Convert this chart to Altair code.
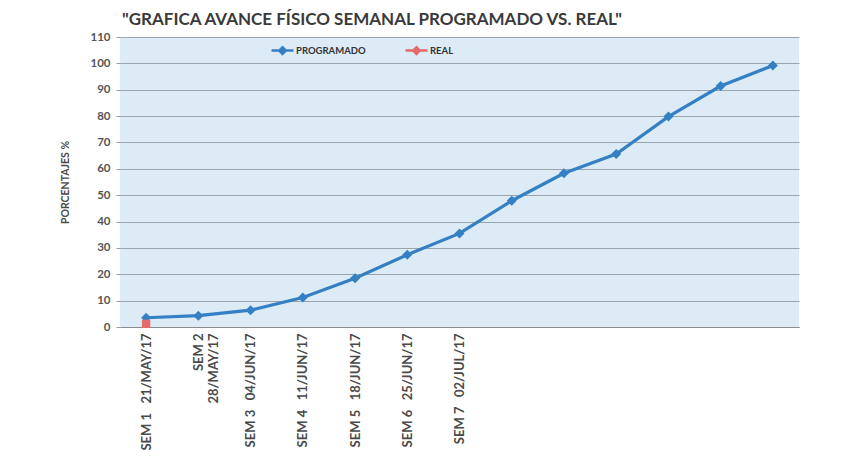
import json
import altair as alt
import pandas as pd

# ---- data ----
semanas = list(range(1, 14))
NB = "\u00a0"
etiquetas = [
    "SEM 1" + NB * 3 + "21/MAY/17",
    ["SEM 2", "28/MAY/17"],
    "SEM 3" + NB * 3 + "04/JUN/17",
    "SEM 4" + NB * 3 + "11/JUN/17",
    "SEM 5" + NB * 3 + "18/JUN/17",
    "SEM 6" + NB * 3 + "25/JUN/17",
    "SEM 7" + NB * 3 + "02/JUL/17",
    "", "", "", "", "", "",
]
programado = [3.5, 4.3, 6.4, 11.2, 18.5, 27.4, 35.5, 47.9, 58.3, 65.6, 79.8, 91.4, 99.2]
real_semanas = [1]
real = [1.2]
series = ["PROGRAMADO", "REAL"]
colores = ["#3580C4", "#E26B6B"]
y_ticks = list(range(0, 111, 10))
titulo = "\"GRAFICA AVANCE FÍSICO SEMANAL PROGRAMADO VS. REAL\""

df = pd.concat([
    pd.DataFrame({"semana": semanas, "valor": programado, "serie": series[0]}),
    pd.DataFrame({"semana": real_semanas, "valor": real, "serie": series[1]}),
], ignore_index=True)

FONT = "Lato"
label_expr = json.dumps(etiquetas, ensure_ascii=False) + "[datum.value - 1]"
legend_symbol = "M-1,0L1,0M-0.3,0L0,-0.3L0.3,0L0,0.3Z"

x = alt.X(
    "semana:O",
    scale=alt.Scale(type="point", padding=0.5),
    axis=alt.Axis(
        title=None, labelExpr=label_expr, labelAngle=270, labelAlign="right",
        labelBaseline="middle", labelPadding=6, labelFont=FONT, labelFontSize=13,
        labelFontWeight="bold", labelColor="#4a4a4a", ticks=False,
        domainColor="#8c8c8c", grid=False, labelOverlap=False,
    ),
)
y = alt.Y(
    "valor:Q",
    scale=alt.Scale(domain=[0, 110]),
    axis=alt.Axis(
        values=y_ticks, title="PORCENTAJES %", titleFont=FONT, titleFontSize=10.5,
        titleFontWeight="bold", titleColor="#4a4a4a", titlePadding=19,
        labelFont=FONT, labelFontSize=11.5, labelFontWeight="bold", labelColor="#555555",
        labelPadding=6, tickSize=4, tickColor="#9a9a9a", domain=False,
        gridColor="#9ba4ad", gridWidth=1,
    ),
)
color = alt.Color(
    "serie:N",
    scale=alt.Scale(domain=series, range=colores),
    legend=alt.Legend(
        orient="none", legendX=150, legendY=1, direction="horizontal", title=None,
        symbolType=legend_symbol, symbolSize=484, symbolStrokeWidth=2.5,
        labelFont=FONT, labelFontSize=9.5, labelFontWeight="bold", labelColor="#333333",
        labelOffset=1, columnPadding=34,
    ),
)

base = alt.Chart(df)
lineas = base.mark_line(strokeWidth=3.2).encode(x=x, y=y, color=color)
puntos_prog = base.transform_filter(alt.datum.serie == series[0]).mark_point(
    filled=True, opacity=1, size=100, shape="diamond").encode(x=x, y=y, color=color)
puntos_real = base.transform_filter(alt.datum.serie == series[1]).mark_point(
    filled=True, opacity=1, size=70, shape="square").encode(x=x, y=y, color=color)

chart = (
    alt.layer(lineas, puntos_prog, puntos_real)
    .properties(
        width=679, height=290,
        autosize=alt.AutoSizeParams(type="none"),
        padding={"left": 112, "top": 29, "right": 56, "bottom": 130},
        title=alt.Title(titulo, anchor="start", frame="group", font=FONT, fontSize=17,
                        fontWeight="bold", color="#3a3a3a", offset=2, dx=2),
        background="white",
    )
    .configure_view(fill="#DCEBF6", strokeWidth=0)
)

chart.save("out.html", embed_options={"renderer": "svg", "actions": False})
